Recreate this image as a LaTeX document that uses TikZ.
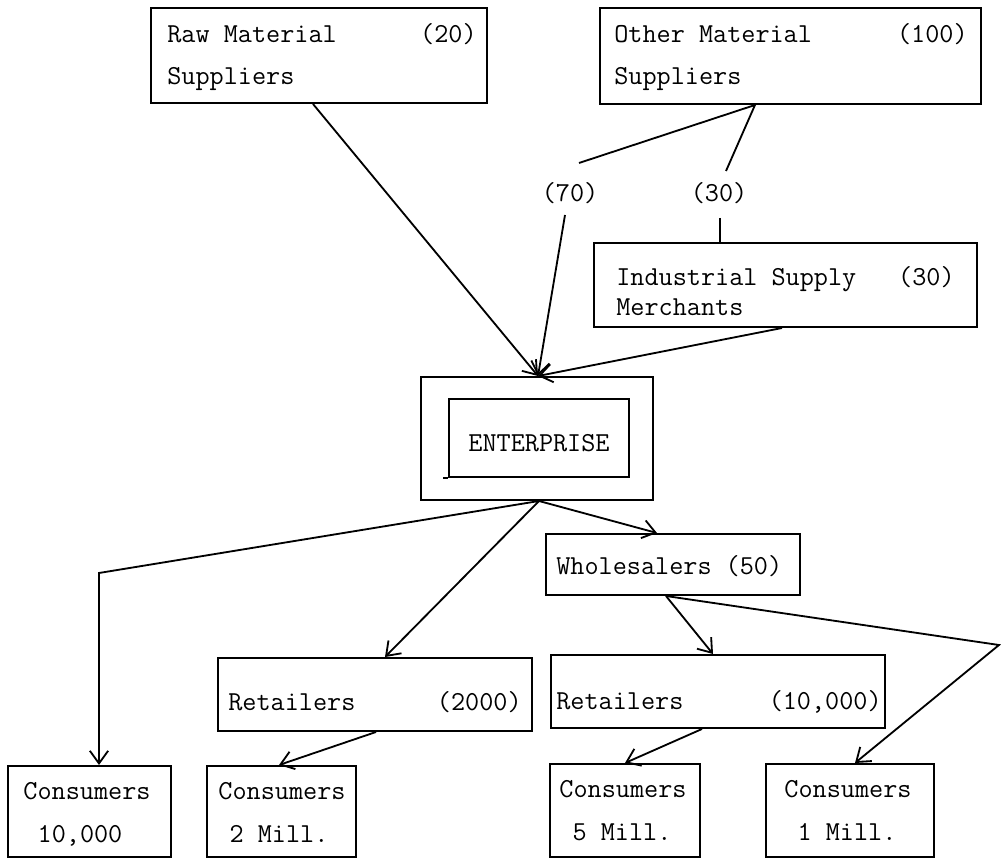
\documentclass[tikz,border=0pt]{standalone}
\usepackage{fontspec}
\usepackage{tikz}
\usetikzlibrary{positioning,arrows.meta}
\newcommand\tw{\fontsize{19.5}{23}\selectfont\ttfamily}

\begin{document}
\begin{tikzpicture}[x=0.025cm, y=-0.025cm,
	box/.style={draw, line width=1.4pt, inner sep=0pt},
	txt/.style={font=\tw, inner sep=0pt, text height=1.42ex, text depth=0pt},
	flow/.style={line width=1.3pt, -{Straight Barb[length=9pt,width=13pt]}},
	link/.style={line width=1.3pt}]
	\useasboundingbox (0,0) rectangle (1001,860);
	
	% suppliers
	\node[box, minimum width=8.4cm, minimum height=2.375cm] (raw) at (319,55.5) {};
	\node[txt, anchor=west] (raw-a) at (167,38) {Raw Material};
	\node[txt, anchor=east] (raw-n) at (477,38) {(20)};
	\node[txt, anchor=west] (raw-b) at ([yshift=-1.05cm]raw-a.west) {Suppliers};
	
	\node[box, minimum width=9.525cm, minimum height=2.4cm] (oth) at (790.5,56) {};
	\node[txt, anchor=west] (oth-a) at (614,38) {Other Material};
	\node[txt, anchor=east] (oth-n) at (968,38) {(100)};
	\node[txt, anchor=west] (oth-b) at ([yshift=-1.05cm]oth-a.west) {Suppliers};
	
	% split of the other material
	\coordinate (split) at (755,0 |- oth.south);
	\coordinate (s70) at (579,163);
	\coordinate (s30) at (726,171);
	\node[txt] (l70) at (570,197) {(70)};
	\node[txt] (l30) at (719,197) {(30)};
	\coordinate (a70) at (565,215);
	\coordinate (a30) at (720,218);
	
	\node[box, minimum width=9.575cm, minimum height=2.1cm] (ind) at (785.5,285) {};
	\node[txt, anchor=west] (ind-a) at (616,281) {Industrial Supply};
	\node[txt, anchor=east] (ind-n) at (955,281) {(30)};
	\node[txt, anchor=west] (ind-b) at ([yshift=-0.75cm]ind-a.west) {Merchants};
	
	% enterprise
	\node[box, minimum width=5.8cm, minimum height=3.075cm] (ent) at (537,438.5) {};
	\node[box, minimum width=4.5cm, minimum height=1.95cm] (ent-in) at (539,438) {};
	\node[txt] (ent-t) at (539,447) {ENTERPRISE};
	\draw[link] (443,0 |- ent-in.south) -- (ent-in.south west);
	\coordinate (ent-top) at (538,0 |- ent.north);
	\coordinate (ent-bot) at (539,0 |- ent.south);
	
	% distribution
	\node[box, minimum width=6.35cm, minimum height=1.525cm] (who) at (673,564.5) {};
	\node[txt, anchor=west] (who-t) at (556,570) {Wholesalers (50)};
	
	\node[box, minimum width=7.85cm, minimum height=1.825cm] (ret1) at (375,694.5) {};
	\node[txt, anchor=west] (ret1-t) at (228,706) {Retailers};
	\node[txt, anchor=east] (ret1-n) at (522,706) {(2000)};
	
	\node[box, minimum width=8.35cm, minimum height=1.825cm] (ret2) at (718,691.5) {};
	\node[txt, anchor=west] (ret2-t) at (556,705) {Retailers};
	\node[txt, anchor=east] (ret2-n) at (882,705) {(10,000)};
	
	% consumers
	\node[box, minimum width=4.075cm, minimum height=2.275cm] (con1) at (89.5,811.5) {};
	\node[txt] (con1-a) at (87,795) {Consumers};
	\node[txt] (con1-b) at (80,838) {10,000};
	
	\node[box, minimum width=3.725cm, minimum height=2.275cm] (con2) at (281.5,811.5) {};
	\node[txt] (con2-a) at (282,795) {Consumers};
	\node[txt] (con2-b) at (279,838) {2 Mill.};
	
	\node[box, minimum width=3.75cm, minimum height=2.325cm] (con3) at (625,810.5) {};
	\node[txt] (con3-a) at (623,793) {Consumers};
	\node[txt] (con3-b) at (622,836) {5 Mill.};
	
	\node[box, minimum width=4.2cm, minimum height=2.325cm] (con4) at (850,810.5) {};
	\node[txt] (con4-a) at (848,793) {Consumers};
	\node[txt] (con4-b) at (847,836) {1 Mill.};
	
	% flows into the enterprise
	\draw[flow] (313,0 |- raw.south) -- (ent-top);
	\draw[link] (s70) -- (split) -- (s30);
	\draw[flow] (a70) -- (ent-top);
	\draw[link] (a30) -- (720,0 |- ind.north);
	\draw[flow] (782,0 |- ind.south) -- (ent-top);
	
	% flows out of the enterprise
	\coordinate (bend) at (99,573);
	\draw[flow] (ent-bot) -- (bend) -- (bend |- con1.north);
	\draw[flow] (ent-bot) -- (385,0 |- ret1.north);
	\draw[flow] (ent-bot) -- (657,0 |- who.north);
	\draw[flow] (666,0 |- who.south) -- (713,0 |- ret2.north);
	\coordinate (kink) at (999,645);
	\draw[flow] (666,0 |- who.south) -- (kink) -- (855,0 |- con4.north);
	\draw[flow] (376,0 |- ret1.south) -- (279,0 |- con2.north);
	\draw[flow] (702,0 |- ret2.south) -- (625,0 |- con3.north);
\end{tikzpicture}
\end{document}
